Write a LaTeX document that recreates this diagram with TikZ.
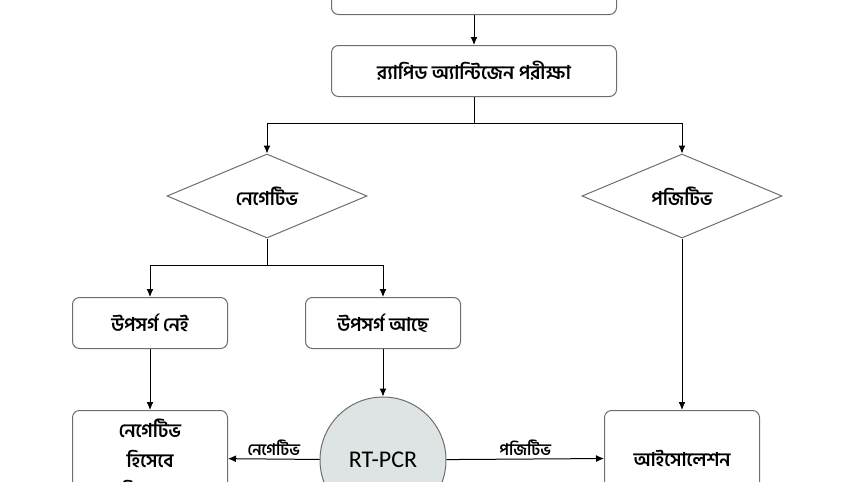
\documentclass[tikz,border=0pt]{standalone}
\usepackage{fontspec}
\setmainfont{Carlito}
\newfontfamily\bnfont[Script=Bengali]{Hind Siliguri}
\usetikzlibrary{shapes.geometric,arrows.meta}
\definecolor{edgegray}{RGB}{110,110,110}
\definecolor{circlefill}{RGB}{222,228,228}

\begin{document}
\begin{tikzpicture}[x=1pt, y=-1pt,
    box/.style={rectangle, draw=edgegray, rounded corners=7pt, line width=1pt, minimum height=51pt, minimum width=155pt, align=center, font=\bnfont\bfseries\fontsize{19}{30}\selectfont},
    decision/.style={diamond, draw=edgegray, line width=1pt, aspect=2.4, minimum width=200pt, minimum height=84pt, inner sep=0pt, font=\bnfont\bfseries\fontsize{19}{22}\selectfont},
    arrow/.style={-{Latex[length=8pt,width=7pt]}, line width=1pt},
    lbl/.style={font=\bnfont\bfseries\fontsize{16}{18}\selectfont, above}
]
\useasboundingbox (0,0) rectangle (857,482);
\clip (0,0) rectangle (857,482);

% top
\node[box, minimum width=285pt] (start) at (474,-11) {};
\node[box, minimum width=285pt] (rapid) at (474,71) {র‍্যাপিড অ্যান্টিজেন পরীক্ষা};

% decisions
\node[decision] (neg) at (267,196) {নেগেটিভ};
\node[decision] (pos) at (682,196) {পজিটিভ};

% symptoms
\node[box] (nosym) at (150,323) {উপসর্গ নেই};
\node[box] (sym) at (383,323) {উপসর্গ আছে};

% bottom row
\node[box, minimum height=95pt] (negres) at (150,458) {নেগেটিভ\\হিসেবে\\বিবেচনা};
\node[circle, draw=edgegray, line width=1pt, fill=circlefill, minimum size=126pt, font=\fontsize{24}{28}\selectfont] (rtpcr) at (383,460) {RT-PCR};
\node[box, minimum height=95pt] (iso) at (682,458) {আইসোলেশন};

% arrows
\draw[arrow] (start) -- (rapid);
\coordinate (split1) at (474,123);
\coordinate (split2) at (267,265);
\draw[line width=1pt] (rapid) -- (split1);
\draw[arrow] (split1) -| (neg.north);
\draw[arrow] (split1) -| (pos.north);
\draw[line width=1pt] (neg.south) -- (split2);
\draw[arrow] (split2) -| (nosym.north);
\draw[arrow] (split2) -| (sym.north);
\draw[arrow] (nosym) -- (negres);
\draw[arrow] (sym) -- (rtpcr);
\draw[arrow] (pos) -- (iso);
\draw[arrow] (rtpcr) -- node[lbl] {নেগেটিভ} (negres);
\draw[arrow] (rtpcr) -- node[lbl] {পজিটিভ} (iso);

\end{tikzpicture}
\end{document}
